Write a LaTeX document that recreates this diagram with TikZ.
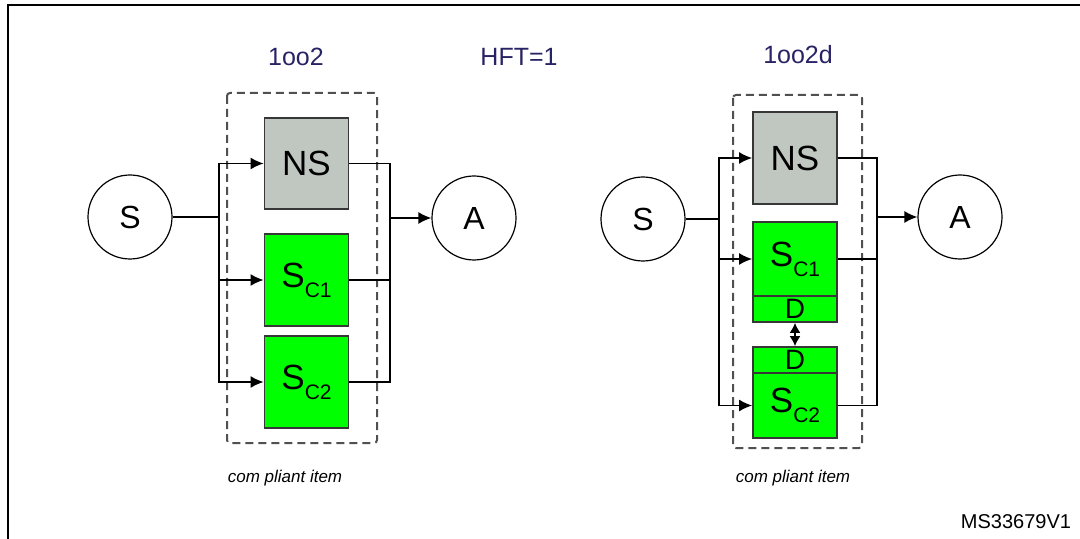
\documentclass[tikz,border=0pt]{standalone}
\usepackage{fontspec}
\setmainfont{Liberation Sans}
\usetikzlibrary{arrows.meta}
\definecolor{nsgray}{RGB}{192,198,192}
\definecolor{scgreen}{RGB}{0,255,0}
\definecolor{edgegray}{RGB}{55,55,55}
\definecolor{dashgray}{RGB}{80,80,80}
\definecolor{lblblue}{RGB}{40,35,100}
\newcommand{\chsub}[1]{\raisebox{-5pt}{\fontsize{10.5}{11}\selectfont #1}}
\begin{document}
\begin{tikzpicture}[x=0.5pt,y=-0.5pt,
  blk/.style={draw=edgegray, line width=0.9pt, minimum width=42pt, inner sep=0pt, font=\fontsize{17.5}{18}\selectfont},
  nsblk/.style={blk, fill=nsgray},
  scblk/.style={blk, fill=scgreen},
  dblk/.style={blk, fill=scgreen, minimum height=13pt, font=\fontsize{14}{14}\selectfont},
  circ/.style={draw, circle, line width=0.6pt, minimum size=42pt, inner sep=0pt, font=\fontsize{16}{16}\selectfont},
  wire/.style={line width=0.8pt},
  arr/.style={wire, -{Latex[length=6.5pt,width=6pt]}},
  dbl/.style={wire, {Latex[length=5pt,width=5.5pt]}-{Latex[length=5pt,width=5.5pt]}},
  grp/.style={draw=dashgray, line width=1pt, dash pattern=on 4pt off 2.5pt, rounded corners=1.5pt},
  lbl/.style={text=lblblue, font=\fontsize{12.5}{13}\selectfont},
  note/.style={font=\itshape\fontsize{8.5}{9}\selectfont}]
\useasboundingbox (0,0) rectangle (1080,539);
\draw[line width=1.2pt] (8,539) -- (8,5) -- (1080,5);

% titles
\node[lbl] (t1) at (296,57) {1oo2};
\node[lbl] (hft) at (519,57) {HFT=1};
\node[lbl] (t2) at (798,55) {1oo2d};

% 1oo2
\draw[grp] (227,93) rectangle (377,443);
\node[circ] (s1) at (130,217) {S};
\node[circ] (a1) at (474,218) {A};
\node[nsblk, minimum height=45.5pt] (ns1) at (306.5,163.5) {NS};
\node[scblk, minimum height=46pt] (sc11) at (306.5,280) {S\chsub{C1}};
\node[scblk, minimum height=46pt] (sc12) at (306.5,382) {S\chsub{C2}};
\coordinate (l1) at (219,217);
\coordinate (r1) at (390,218);
\draw[wire] (s1) -- (l1);
\foreach \b in {ns1,sc11,sc12} {
  \draw[arr] (l1) |- (\b);
  \draw[wire] (\b) -| (r1);
}
\draw[arr] (r1) -- (a1);
\node[note] (c1) at (285,478) {com pliant item};

% 1oo2d
\draw[grp] (733,95) rectangle (862,448);
\node[circ] (s2) at (643,219) {S};
\node[circ] (a2) at (960,217) {A};
\node[nsblk, minimum height=46pt] (ns2) at (795,158) {NS};
\node[scblk, minimum height=37pt] (sc21) at (795,259) {S\chsub{C1}};
\node[dblk] (d21) at (795,309) {D};
\node[dblk] (d22) at (795,360) {D};
\node[scblk, minimum height=32.5pt] (sc22) at (795,405.5) {S\chsub{C2}};
\coordinate (l2) at (719,219);
\coordinate (r2) at (877,217);
\draw[wire] (s2) -- (l2);
\foreach \b in {ns2,sc21,sc22} {
  \draw[arr] (l2) |- (\b);
  \draw[wire] (\b) -| (r2);
}
\draw[arr] (r2) -- (a2);
\draw[dbl] (d21) -- (d22);
\node[note] (c2) at (793,478) {com pliant item};

\node[font=\fontsize{10}{10}\selectfont] (ref) at (1016,522) {MS33679V1};
\end{tikzpicture}
\end{document}
